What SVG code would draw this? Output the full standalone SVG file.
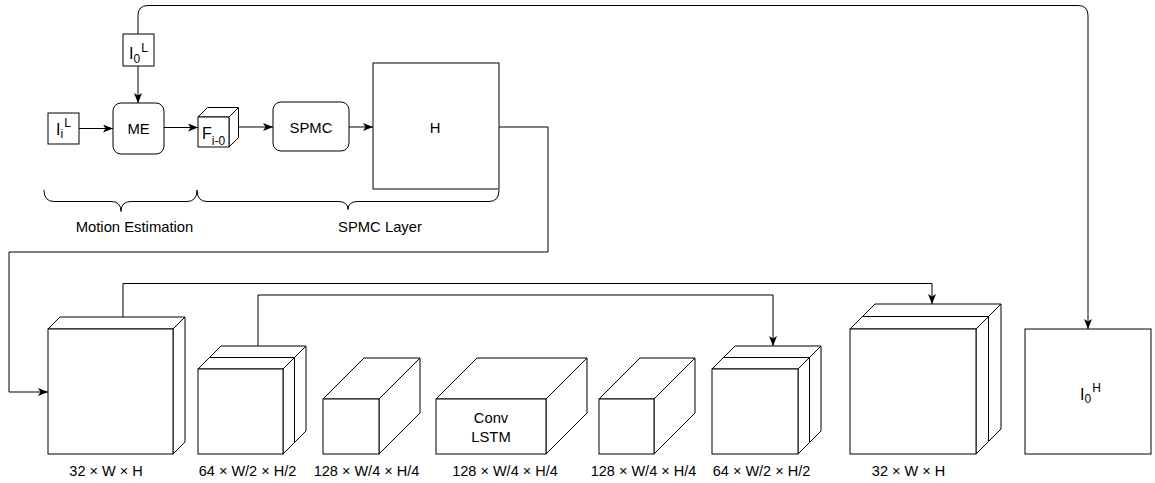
<svg xmlns="http://www.w3.org/2000/svg" width="1155" height="483" viewBox="0 0 1155 483">
<style>
.s{fill:#fff;stroke:#000;stroke-width:1}
.c{fill:none;stroke:#000;stroke-width:1}
text{font-family:"Liberation Sans",Arial,Helvetica,sans-serif;fill:#000}
.t{font-size:14.8px}
.m{text-anchor:middle}
.l{font-size:14.5px;text-anchor:middle}
</style>
<defs>
<marker id="a" markerUnits="userSpaceOnUse" markerWidth="11" markerHeight="9" refX="10" refY="4" orient="auto">
<path d="M0,0 L10,4 L0,8 L2.5,4 Z" fill="#000"/>
</marker>
</defs>
<rect width="1155" height="483" fill="#fff"/>

<g id="connectors">
<path class="c" d="M79,128.5 H113" marker-end="url(#a)"/>
<path class="c" d="M138,66 V103" marker-end="url(#a)"/>
<path class="c" d="M164,127.5 H198" marker-end="url(#a)"/>
<path class="c" d="M239,127 H273" marker-end="url(#a)"/>
<path class="c" d="M349,127 H373" marker-end="url(#a)"/>
<path class="c" d="M499,127 H548 V252 H9 V392 H48" marker-end="url(#a)"/>
<path class="c" d="M138,34 V15.5 Q138,5.5 148,5.5 H1078 Q1088,5.5 1088,15.5 V329" marker-end="url(#a)"/>
<path class="c" d="M123,317 V283.5 H932 V304" marker-end="url(#a)"/>
<path class="c" d="M258,346 V295 H773 V346" marker-end="url(#a)"/>
</g>

<g id="brace-me">
<path class="c" d="M44,190 Q44,201.5 54,201.5 H111 Q121,201.5 121,211.5 Q121,201.5 131,201.5 H187 Q197,201.5 197,190"/>
<text class="t m" x="134.5" y="232">Motion Estimation</text>
</g>
<g id="brace-spmc">
<path class="c" d="M197,190 Q197,201.5 207,201.5 H338 Q348,201.5 348,209.5 Q348,201.5 358,201.5 H489 Q499,201.5 499,190"/>
<text class="t m" x="380" y="232">SPMC Layer</text>
</g>

<g id="I0L">
<rect class="s" x="123" y="34" width="31" height="32"/>
<text x="129" y="59" font-size="16">I<tspan font-size="12" dy="3.5">0</tspan><tspan font-size="12" dx="1" dy="-11">L</tspan></text>
</g>
<g id="IiL">
<rect class="s" x="48" y="113" width="31" height="31"/>
<text x="56" y="135" font-size="16">I<tspan font-size="12" dy="2.5">i</tspan><tspan font-size="12" dx="1" dy="-11">L</tspan></text>
</g>
<g id="ME">
<rect class="s" x="113" y="103" width="51" height="51" rx="8"/>
<text class="t m" x="138.5" y="134">ME</text>
</g>
<g id="F">
<polygon class="s" points="198,117 207.5,107.5 238.5,107.5 229,117"/>
<polygon class="s" points="229,117 238.5,107.5 238.5,137.5 229,147"/>
<rect class="s" x="198" y="117" width="31" height="30"/>
<text x="202" y="139" font-size="16">F<tspan font-size="12" dy="6">i-0</tspan></text>
</g>
<g id="SPMC">
<rect class="s" x="273" y="102" width="76" height="49" rx="8"/>
<text class="t m" x="311" y="133">SPMC</text>
</g>
<g id="H">
<rect class="s" x="373" y="63" width="126" height="126"/>
<text class="t m" x="435" y="133">H</text>
</g>

<g id="cube1">
<polygon class="s" points="48,329 60,317 185,317 173,329"/>
<polygon class="s" points="173,329 185,317 185,442 173,454"/>
<rect class="s" x="48" y="329" width="125" height="125"/>
<text class="l" x="106" y="476">32 × W × H</text>
</g>
<g id="cube2">
<polygon class="s" points="209.5,357.5 221,346 306,346 294.5,357.5"/>
<polygon class="s" points="294.5,357.5 306,346 306,431 294.5,442.5"/>
<polygon class="s" points="198,369 209.5,357.5 294.5,357.5 283,369"/>
<polygon class="s" points="283,369 294.5,357.5 294.5,442.5 283,454"/>
<rect class="s" x="198" y="369" width="85" height="85"/>
<text class="l" x="247.5" y="476">64 × W/2 × H/2</text>
</g>
<g id="cube3">
<polygon class="s" points="323,399 364,358 420,358 379,399"/>
<polygon class="s" points="379,399 420,358 420,413 379,454"/>
<rect class="s" x="323" y="399" width="56" height="55"/>
<text class="l" x="366.5" y="476">128 × W/4 × H/4</text>
</g>
<g id="cube4">
<polygon class="s" points="436,399 477,358 587,358 546,399"/>
<polygon class="s" points="546,399 587,358 587,413 546,454"/>
<rect class="s" x="436" y="399" width="110" height="55"/>
<text class="t m" x="491" y="423">Conv</text>
<text class="t m" x="491" y="441.5">LSTM</text>
<text class="l" x="505" y="476">128 × W/4 × H/4</text>
</g>
<g id="cube5">
<polygon class="s" points="599,399 640,358 695,358 654,399"/>
<polygon class="s" points="654,399 695,358 695,413 654,454"/>
<rect class="s" x="599" y="399" width="55" height="55"/>
<text class="l" x="643.5" y="476">128 × W/4 × H/4</text>
</g>
<g id="cube6">
<polygon class="s" points="723.5,357.5 735,346 821,346 809.5,357.5"/>
<polygon class="s" points="809.5,357.5 821,346 821,431 809.5,442.5"/>
<polygon class="s" points="712,369 723.5,357.5 809.5,357.5 798,369"/>
<polygon class="s" points="798,369 809.5,357.5 809.5,442.5 798,454"/>
<rect class="s" x="712" y="369" width="86" height="85"/>
<text class="l" x="761.5" y="476">64 × W/2 × H/2</text>
</g>
<g id="cube7">
<polygon class="s" points="862.5,316.5 875,304 1001,304 988.5,316.5"/>
<polygon class="s" points="988.5,316.5 1001,304 1001,429 988.5,441.5"/>
<polygon class="s" points="850,329 862.5,316.5 988.5,316.5 976,329"/>
<polygon class="s" points="976,329 988.5,316.5 988.5,441.5 976,454"/>
<rect class="s" x="850" y="329" width="126" height="125"/>
<text class="l" x="908.5" y="476">32 × W × H</text>
</g>
<g id="I0H">
<rect class="s" x="1025" y="329" width="126" height="125"/>
<text x="1080" y="400" font-size="16">I<tspan font-size="12" dy="3">0</tspan><tspan font-size="12" dx="1" dy="-11">H</tspan></text>
</g>
</svg>
